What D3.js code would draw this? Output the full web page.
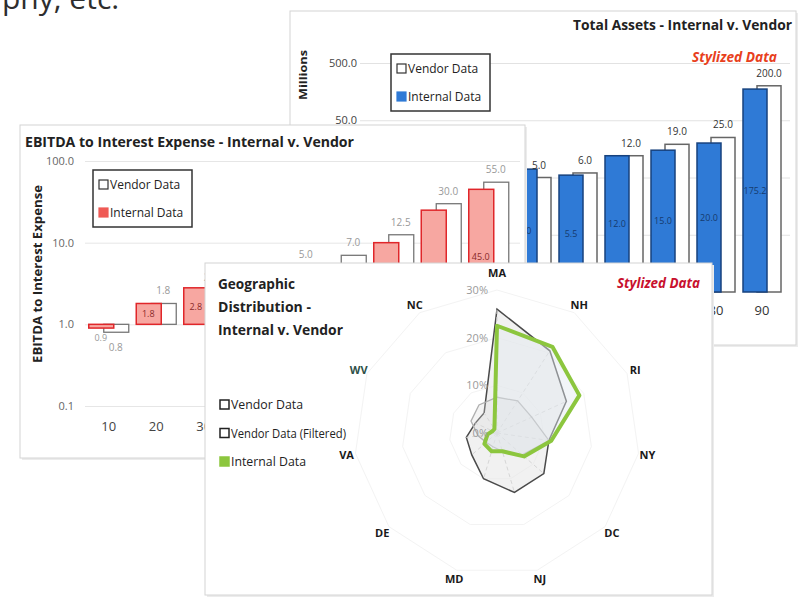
<!DOCTYPE html>
<html>
<head>
<meta charset="utf-8">
<script src="https://d3js.org/d3.v7.min.js"></script>
<style>
  body { margin: 0; background: #fff; }
  text { font-family: "Open Sans", "Noto Sans", sans-serif; }
  .bold { font-weight: bold; }
</style>
</head>
<body>
<script>
// ---- data ----
var sizeCats = ["10", "20", "30", "40", "50", "60", "70", "80", "90"];

// Total Assets (millions)
var assetInternal = [1.0, 2.0, 3.0, 7.0, 5.5, 12.0, 15.0, 20.0, 175.2];
var assetVendor   = [1.2, 2.2, 3.5, 5.0, 6.0, 12.0, 19.0, 25.0, 200.0];
var assetTicks    = [0.5, 5, 50, 500];

// EBITDA to interest expense
var ebitdaInternal = [0.9, 1.8, 2.8, 3.0, 4.5, 5.0, 10.0, 25.0, 45.0];
var ebitdaVendor   = [0.8, 1.8, 2.6, 3.4, 5.0, 7.0, 12.5, 30.0, 55.0];
var ebitdaTicks    = [0.1, 1, 10, 100];

// Geographic distribution (%)
var geoStates   = ["MA", "NH", "RI", "NY", "DC", "NJ", "MD", "DE", "VA", "WV", "NC"];
var geoVendor   = [26, 20.5, 16, 11, 13, 13, 10, 7, 6.5, 5, 5];
var geoFiltered = [7.5, 8, 8, 11, 7, 4, 3, 3, 4, 6, 7];
var geoInternal = [22.5, 21.5, 19, 11.5, 7.5, 4, 4, 3.5, 2, 1, 1];
var geoTicks    = [0, 10, 20, 30];

var fmt = d3.format(".1f");

var svg = d3.select("body").append("svg")
    .attr("width", 800).attr("height", 599);

// cut-off slide heading at the top
svg.append("text")
    .attr("x", 2).attr("y", 9)
    .style("font-size", "30px")
    .attr("fill", "#2e2e2e")
    .text("phy, etc.");

function card(x, y, w, h) {
  svg.append("rect").attr("x", x + 2).attr("y", y + 2).attr("width", w).attr("height", h)
      .attr("fill", "#ececec");
  svg.append("rect").attr("x", x).attr("y", y).attr("width", w).attr("height", h)
      .attr("fill", "#fff").attr("stroke", "#d4d4d4");
}

function legendBox(g, x, y, items) {
  g.append("rect").attr("x", x).attr("y", y).attr("width", 99).attr("height", 57)
      .attr("fill", "#fff").attr("stroke", "#333").attr("stroke-width", 1.5);
  items.forEach(function (it, i) {
    var ly = y + 15 + i * 28;
    g.append("rect").attr("x", x + 6).attr("y", ly - 5).attr("width", 9).attr("height", 9)
        .attr("fill", it.fill).attr("stroke", it.stroke).attr("stroke-width", 1.2);
    g.append("text").attr("x", x + 17).attr("y", ly + 4)
        .style("font-size", "12px").attr("fill", "#222").text(it.label);
  });
}

/* ---------- Total Assets ---------- */
card(290, 11, 506, 334);
var g1 = svg.append("g");

var xA = d3.scaleBand().domain(sizeCats).range([364, 778]);
var yA = d3.scaleLog().domain([0.05, 500]).range([292, 63]);

g1.append("g").attr("transform", "translate(360,0)")
    .call(d3.axisLeft(yA).tickValues(assetTicks).tickSize(-430).tickFormat(""))
    .call(function (a) { a.select(".domain").remove(); a.selectAll("line").attr("stroke", "#e2e2e2"); });
g1.append("g").attr("transform", "translate(360,0)")
    .call(d3.axisLeft(yA).tickValues(assetTicks).tickSize(0).tickPadding(3).tickFormat(fmt))
    .call(function (a) {
      a.select(".domain").remove();
      a.selectAll("text").style("font-size", "11px").attr("fill", "#444");
    });

g1.selectAll(".av").data(assetVendor).enter().append("rect")
    .attr("x", function (d, i) { return xA(sizeCats[i]) + 25; })
    .attr("y", function (d) { return yA(d); })
    .attr("width", 24)
    .attr("height", function (d) { return yA.range()[0] - yA(d); })
    .attr("fill", "#fff").attr("stroke", "#666").attr("stroke-width", 1.5);
g1.selectAll(".ai").data(assetInternal).enter().append("rect")
    .attr("x", function (d, i) { return xA(sizeCats[i]) + 11; })
    .attr("y", function (d) { return yA(d); })
    .attr("width", 24)
    .attr("height", function (d) { return yA.range()[0] - yA(d); })
    .attr("fill", "#2f7ad6").attr("stroke", "#17427e").attr("stroke-width", 1.5);
g1.selectAll(".avl").data(assetVendor).enter().append("text")
    .attr("x", function (d, i) { return xA(sizeCats[i]) + 37; })
    .attr("y", function (d) { return yA(d) - 9; })
    .attr("text-anchor", "middle").style("font-size", "10px").attr("fill", "#333")
    .text(fmt);
g1.selectAll(".ail").data(assetInternal).enter().append("text")
    .attr("x", function (d, i) { return xA(sizeCats[i]) + 23; })
    .attr("y", function (d) { return (yA(d) + yA.range()[0]) / 2 + 3; })
    .attr("text-anchor", "middle").style("font-size", "9px").attr("fill", "#163a6e")
    .text(fmt);
g1.selectAll(".ax").data(sizeCats).enter().append("text")
    .attr("x", function (d) { return xA(d) + 30; })
    .attr("y", 315)
    .attr("text-anchor", "middle").style("font-size", "13px").attr("fill", "#333")
    .text(function (d) { return d; });

g1.append("text").attr("class", "bold")
    .attr("transform", "translate(307,75) rotate(-90)")
    .attr("text-anchor", "middle").style("font-size", "11px").attr("fill", "#222")
    .attr("textLength", 50).attr("lengthAdjust", "spacingAndGlyphs")
    .text("Millions");
g1.append("text").attr("class", "bold")
    .attr("x", 792).attr("y", 30).attr("text-anchor", "end")
    .style("font-size", "14px").attr("fill", "#222")
    .attr("textLength", 219).attr("lengthAdjust", "spacingAndGlyphs")
    .text("Total Assets - Internal v. Vendor");
g1.append("text").attr("class", "bold")
    .attr("x", 777).attr("y", 62).attr("text-anchor", "end")
    .style("font-size", "14px").style("font-style", "italic").attr("fill", "#e8401c")
    .attr("textLength", 85).attr("lengthAdjust", "spacingAndGlyphs")
    .text("Stylized Data");
legendBox(g1, 391, 54, [
  { label: "Vendor Data", fill: "#fff", stroke: "#333" },
  { label: "Internal Data", fill: "#2f7ad6", stroke: "#2f7ad6" }
]);

/* ---------- EBITDA to Interest Expense ---------- */
card(20, 125, 505, 333);
var g2 = svg.append("g");

var xE = d3.scaleBand().domain(sizeCats).range([84.75, 512.25]);
var yE = d3.scaleLog().domain([0.1, 100]).range([406, 161]);
var base = yE(1);

g2.append("g").attr("transform", "translate(85,0)")
    .call(d3.axisLeft(yE).tickValues(ebitdaTicks).tickSize(-435).tickFormat(""))
    .call(function (a) { a.select(".domain").remove(); a.selectAll("line").attr("stroke", "#e6e6e6"); });
g2.append("g").attr("transform", "translate(74,0)")
    .call(d3.axisLeft(yE).tickValues(ebitdaTicks).tickSize(0).tickPadding(0).tickFormat(fmt))
    .call(function (a) {
      a.select(".domain").remove();
      a.selectAll("text").style("font-size", "11px").attr("fill", "#666");
    });

g2.selectAll(".ev").data(ebitdaVendor).enter().append("rect")
    .attr("x", function (d, i) { return xE(sizeCats[i]) + 19; })
    .attr("y", function (d) { return Math.min(yE(d), base); })
    .attr("width", 25)
    .attr("height", function (d) { return Math.abs(yE(d) - base); })
    .attr("fill", "#fff").attr("stroke", "#777").attr("stroke-width", 1.3);
g2.selectAll(".ei").data(ebitdaInternal).enter().append("rect")
    .attr("x", function (d, i) { return xE(sizeCats[i]) + 4; })
    .attr("y", function (d) { return Math.min(yE(d), base); })
    .attr("width", 25)
    .attr("height", function (d) { return Math.abs(yE(d) - base); })
    .attr("fill", "#f7a7a1").attr("stroke", "#e0262a").attr("stroke-width", 1.5);
g2.selectAll(".evl").data(ebitdaVendor).enter().append("text")
    .attr("x", function (d, i) { return xE(sizeCats[i]) + 31; })
    .attr("y", function (d) { return d >= 1 ? yE(d) - 9 : yE(d) + 19; })
    .attr("text-anchor", "middle").style("font-size", "10px").attr("fill", "#999")
    .text(fmt);
g2.selectAll(".eil").data(ebitdaInternal).enter().append("text")
    .attr("x", function (d, i) { return xE(sizeCats[i]) + 16; })
    .attr("y", function (d) { return d >= 1 ? (yE(d) + base) / 2 + 3.5 : yE(d) + 13; })
    .attr("text-anchor", "middle").style("font-size", "9px")
    .attr("fill", function (d) { return d >= 1 ? "#8a2a2a" : "#999"; })
    .text(fmt);
g2.selectAll(".ex").data(sizeCats).enter().append("text")
    .attr("x", function (d) { return xE(d) + 24; })
    .attr("y", 431)
    .attr("text-anchor", "middle").style("font-size", "13px").attr("fill", "#444")
    .text(function (d) { return d; });

g2.append("text").attr("class", "bold")
    .attr("x", 25).attr("y", 147)
    .style("font-size", "15px").attr("fill", "#222")
    .attr("textLength", 329).attr("lengthAdjust", "spacingAndGlyphs")
    .text("EBITDA to Interest Expense - Internal v. Vendor");
g2.append("text").attr("class", "bold")
    .attr("transform", "translate(42,274) rotate(-90)")
    .attr("text-anchor", "middle").style("font-size", "12px").attr("fill", "#222")
    .attr("textLength", 178).attr("lengthAdjust", "spacingAndGlyphs")
    .text("EBITDA to Interest Expense");
legendBox(g2, 93, 170, [
  { label: "Vendor Data", fill: "#fff", stroke: "#333" },
  { label: "Internal Data", fill: "#ef5a55", stroke: "#ef5a55" }
]);

/* ---------- Geographic Distribution ---------- */
card(205, 263, 507, 332);
var g3 = svg.append("g").attr("transform", "translate(497,433)");

var rG = d3.scaleLinear().domain([0, 30]).range([0, 143]);
var ang = function (i) { return i * 2 * Math.PI / geoStates.length; };

var radial = d3.lineRadial()
    .angle(function (d, i) { return ang(i); })
    .radius(function (d) { return rG(d); })
    .curve(d3.curveLinearClosed);

geoTicks.slice(1).forEach(function (t) {
  g3.append("path").attr("d", radial(geoStates.map(function () { return t; })))
      .attr("fill", "none").attr("stroke", "#f3f3f3");
});

g3.append("path").attr("d", radial(geoVendor))
    .attr("fill", "#e6e6e6").attr("fill-opacity", 0.55)
    .attr("stroke", "#4a4a4a").attr("stroke-width", 1.5);

// spokes only faintly visible inside the vendor area
geoStates.forEach(function (s, i) {
  var a = ang(i), r = rG(geoVendor[i]);
  g3.append("line")
      .attr("x1", 0).attr("y1", 0)
      .attr("x2", r * Math.sin(a)).attr("y2", -r * Math.cos(a))
      .attr("stroke", "#d6d6d6").attr("stroke-dasharray", "4,3");
});

g3.append("path").attr("d", radial(geoFiltered))
    .attr("fill", "#dcdcdc").attr("fill-opacity", 0.3)
    .attr("stroke", "#b0b0b0").attr("stroke-width", 1.3);
g3.append("path").attr("d", radial(geoInternal))
    .attr("fill", "#e3e8ef").attr("fill-opacity", 0.45)
    .attr("stroke", "#8cc63e").attr("stroke-width", 4).attr("stroke-linejoin", "round");

g3.selectAll(".rt").data(geoTicks).enter().append("text")
    .attr("x", -9)
    .attr("y", function (d) { return -rG(d) + 4; })
    .attr("text-anchor", "end").style("font-size", "11px").attr("fill", "#9a9a9a")
    .text(function (d) { return d + "%"; });

g3.selectAll(".st").data(geoStates).enter().append("text")
    .attr("class", "bold")
    .attr("x", function (d, i) { return 152 * Math.sin(ang(i)); })
    .attr("y", function (d, i) { return -(i === 0 ? 160 : 152) * Math.cos(ang(i)) + 4; })
    .attr("text-anchor", "middle").style("font-size", "11px")
    .attr("fill", function (d) { return d === "WV" ? "#2f5048" : "#1a1a1a"; })
    .text(function (d) { return d; });

var titleLines = [["Geographic", 77], ["Distribution -", 93], ["Internal v. Vendor", 125]];
titleLines.forEach(function (t, i) {
  svg.append("text").attr("class", "bold")
      .attr("x", 218).attr("y", 289 + i * 23)
      .style("font-size", "15px").attr("fill", "#222")
      .attr("textLength", t[1]).attr("lengthAdjust", "spacingAndGlyphs")
      .text(t[0]);
});
svg.append("text").attr("class", "bold")
    .attr("x", 700).attr("y", 288).attr("text-anchor", "end")
    .style("font-size", "14px").style("font-style", "italic").attr("fill", "#c8102e")
    .attr("textLength", 83).attr("lengthAdjust", "spacingAndGlyphs")
    .text("Stylized Data");

var geoLegend = [
  { label: "Vendor Data", fill: "#fff", stroke: "#222", w: 83 },
  { label: "Vendor Data (Filtered)", fill: "#fff", stroke: "#222", w: 126 },
  { label: "Internal Data", fill: "#8cc63e", stroke: "#8cc63e", w: 86 }
];
geoLegend.forEach(function (it, i) {
  var ly = 405 + i * 28.5;
  svg.append("rect").attr("x", 220).attr("y", ly - 5).attr("width", 9).attr("height", 9)
      .attr("fill", it.fill).attr("stroke", it.stroke).attr("stroke-width", 1.5);
  svg.append("text").attr("x", 231).attr("y", ly + 4)
      .style("font-size", "12px").attr("fill", "#222")
      .attr("textLength", it.w - 11).attr("lengthAdjust", "spacingAndGlyphs")
      .text(it.label);
});
</script>
</body>
</html>
